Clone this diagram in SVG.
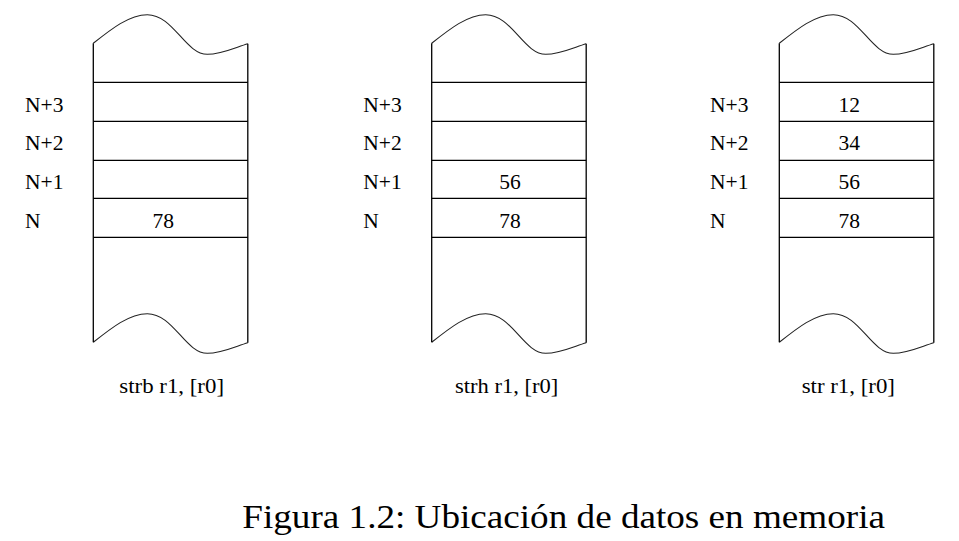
<svg xmlns="http://www.w3.org/2000/svg" width="959" height="541" viewBox="0 0 959 541" font-family="Liberation Serif">
<style>
.t{font-size:21.5px;fill:#000}
.v{text-anchor:middle}
.ln{stroke:#000;stroke-width:1.3;fill:none}
.wv{stroke:#222;stroke-width:1.1;fill:none}
.cap{font-size:22px;fill:#000}
.title{font-size:34px;fill:#000}
</style>
<defs>
<path id="wave" d="M0,43.3 C18,29 36,14.7 54,14.7 C80,14.7 92,54.3 114,54.3 C128,54.3 142,47.5 154.5,43.7"/>
<g id="frame">
<use href="#wave" class="wv"/>
<use href="#wave" class="wv" transform="translate(0,299)"/>
<line class="ln" x1="0" y1="43.3" x2="0" y2="342.3"/>
<line class="ln" x1="154.5" y1="43.7" x2="154.5" y2="342.7"/>
<line class="ln" x1="0" y1="82.3" x2="154.5" y2="82.3"/>
<line class="ln" x1="0" y1="121.3" x2="154.5" y2="121.3"/>
<line class="ln" x1="0" y1="160.3" x2="154.5" y2="160.3"/>
<line class="ln" x1="0" y1="198.3" x2="154.5" y2="198.3"/>
<line class="ln" x1="0" y1="237.3" x2="154.5" y2="237.3"/>
</g>
</defs>

<g id="mem1" font-family="Liberation Serif">
<use href="#frame" x="93.3"/>
<text class="t" x="25" y="111.7">N+3</text>
<text class="t" x="25" y="150.3">N+2</text>
<text class="t" x="25" y="189">N+1</text>
<text class="t" x="25" y="228">N</text>
<text class="t v" x="163.3" y="228">78</text>
<text class="cap" x="119.3" y="393.3" textLength="104.7" lengthAdjust="spacingAndGlyphs">strb r1, [r0]</text>
</g>

<g id="mem2" font-family="Liberation Serif">
<use href="#frame" x="431.7"/>
<text class="t" x="363.3" y="111.7">N+3</text>
<text class="t" x="363.3" y="150.3">N+2</text>
<text class="t" x="363.3" y="189">N+1</text>
<text class="t" x="363.3" y="228">N</text>
<text class="t v" x="510" y="189">56</text>
<text class="t v" x="510" y="228">78</text>
<text class="cap" x="455" y="393.3" textLength="103.3" lengthAdjust="spacingAndGlyphs">strh r1, [r0]</text>
</g>

<g id="mem3" font-family="Liberation Serif">
<use href="#frame" x="779.3"/>
<text class="t" x="710" y="111.7">N+3</text>
<text class="t" x="710" y="150.3">N+2</text>
<text class="t" x="710" y="189">N+1</text>
<text class="t" x="710" y="228">N</text>
<text class="t v" x="849.3" y="111.7">12</text>
<text class="t v" x="849.3" y="150.3">34</text>
<text class="t v" x="849.3" y="189">56</text>
<text class="t v" x="849.3" y="228">78</text>
<text class="cap" x="801.7" y="393.3" textLength="93.3" lengthAdjust="spacingAndGlyphs">str r1, [r0]</text>
</g>

<g id="connectors"/>

<text id="caption" class="title" font-family="Liberation Serif" x="242.3" y="527.7" textLength="642.7" lengthAdjust="spacingAndGlyphs">Figura 1.2: Ubicación de datos en memoria</text>
</svg>
